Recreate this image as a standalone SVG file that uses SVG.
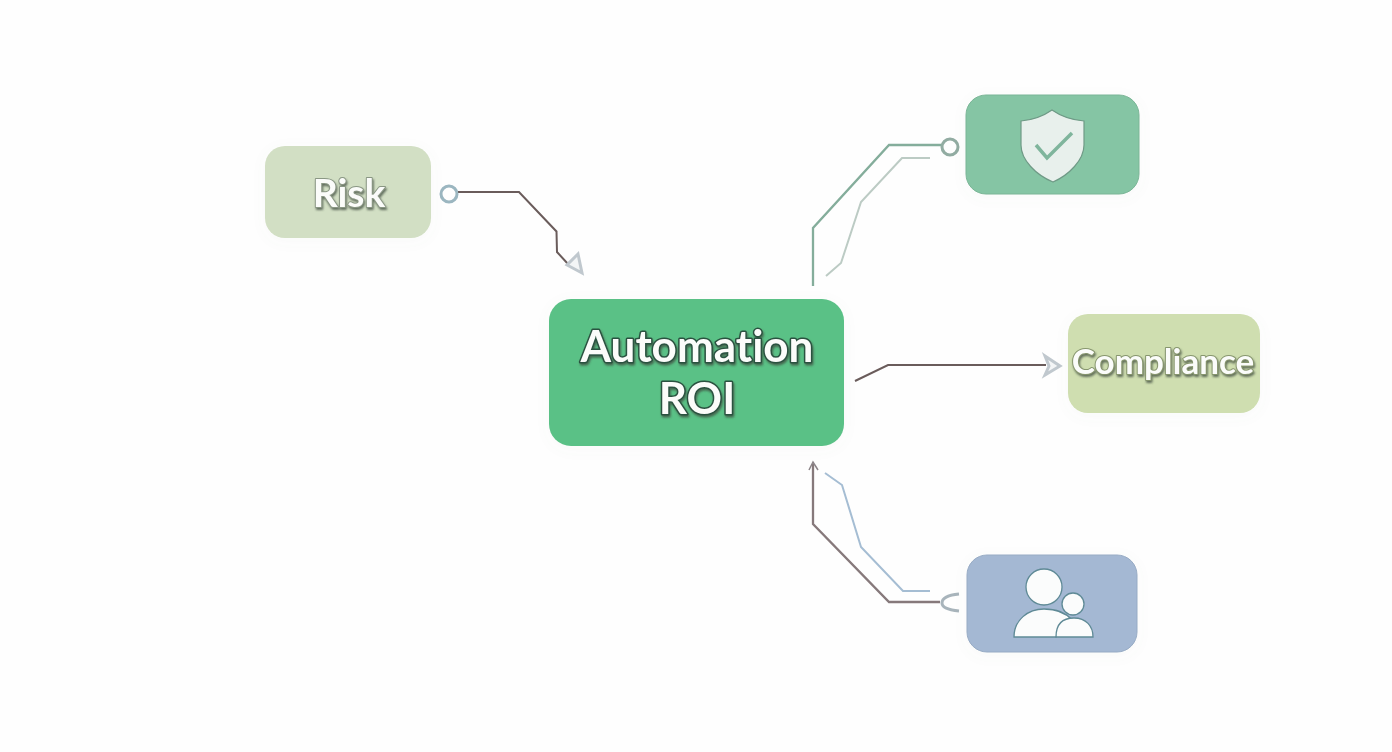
<svg xmlns="http://www.w3.org/2000/svg" width="1392" height="752" viewBox="0 0 1392 752">
<style>
.lbl{font-family:Lato,"Open Sans","Liberation Sans",sans-serif;font-weight:700;fill:#fbfcfa;text-anchor:middle;paint-order:stroke;stroke-linejoin:round;font-variant-ligatures:none}
.line{fill:none;stroke-linejoin:miter}
.head{fill:#f3f5f6;stroke:#c0c8ce;stroke-width:3}
.ic{fill:#fbfcfc;stroke:#5f8a96;stroke-width:1.300}
</style>
<defs>
<filter id="ts" x="-10%" y="-20%" width="120%" height="140%"><feDropShadow dx="1" dy="2" stdDeviation="1" flood-color="#3d4a3d" flood-opacity=".75"/></filter>
<filter id="soft" x="-10%" y="-20%" width="120%" height="140%"><feDropShadow dx="0" dy="3" stdDeviation="7" flood-color="#7f8f80" flood-opacity=".04"/></filter>
</defs>
<rect width="1392" height="752" fill="#fefefe"/>
<g id="connectors">
<path class="line" d="M458 192H519L556.500 231.500L557 252L568 264" stroke="#6a5c5b" stroke-width="2"/>
<path class="head" d="M578 254L582 273L567 265Z"/>
<circle cx="449" cy="194" r="8" fill="#fefefe" stroke="#9bb6c0" stroke-width="3"/>
<path class="line" d="M813 286V228L889 145H942" stroke="#84ad9b" stroke-width="2.300"/>
<path class="line" d="M826 276L841 263L861 202L902 158H930" stroke="#bccbc4" stroke-width="2"/>
<circle cx="950" cy="147" r="8" fill="#fefefe" stroke="#92aca2" stroke-width="3"/>
<path class="line" d="M855 381L888 365H1046" stroke="#6a5c5b" stroke-width="2"/>
<path class="head" d="M1045 356L1060 366L1045 375L1049 366Z"/>
<path class="line" d="M813 464V524L889 602H940" stroke="#86797b" stroke-width="2.300"/>
<path class="line" d="M809 470L813 462L818 470" stroke="#8b8488" stroke-width="1.500"/>
<path class="line" d="M825 473L842 485L861 547L903 591H930" stroke="#a5bdd3" stroke-width="2"/>
<path class="line" d="M959 594C949 595 942 598 942 603C942 608 949 610 959 611" stroke="#a8b4bb" stroke-width="3"/>
</g>
<g id="node-risk">
<rect x="265" y="146" width="166" height="92" rx="20" fill="#d2dfc4" filter="url(#soft)"/>
<text class="lbl" x="349" y="207" font-size="39" stroke="#8a9784" stroke-width="2" filter="url(#ts)">Risk</text>
</g>
<g id="node-shield">
<rect x="966" y="95" width="173" height="99" rx="20" fill="#85c5a4" stroke="#7ab596" stroke-width="1" filter="url(#soft)"/>
<path d="M1052 110C1042 117 1032 120 1021 121V145C1021 160 1036 175 1053 182C1069 175 1084 160 1084 145V121C1072 120 1062 117 1052 110Z" fill="#e8f0ec" stroke="#6f9a86" stroke-width="1.200"/>
<path d="M1036 145L1047 158L1072 133" fill="none" stroke="#7fb59c" stroke-width="3.500"/>
</g>
<g id="node-center">
<rect x="549" y="299" width="295" height="147" rx="22" fill="#5ac186" filter="url(#soft)"/>
<text class="lbl" x="697" y="362" font-size="44" stroke="#2a5240" stroke-width="3" filter="url(#ts)">Automation</text>
<text class="lbl" x="697" y="414" font-size="44" stroke="#2a5240" stroke-width="3" filter="url(#ts)">ROI</text>
</g>
<g id="node-compliance">
<rect x="1068" y="314" width="192" height="99" rx="20" fill="#cfdeb0" filter="url(#soft)"/>
<text class="lbl" x="1163" y="374" font-size="35" stroke="#87966e" stroke-width="2" filter="url(#ts)">Compliance</text>
</g>
<g id="node-people">
<rect x="967" y="555" width="170" height="97" rx="20" fill="#a4b8d3" stroke="#97abc4" stroke-width="1" filter="url(#soft)"/>
<path class="ic" d="M1014 637C1014 620 1028 609 1044 609C1056 609 1066 613 1072 620L1056 637Z"/>
<circle class="ic" cx="1044" cy="587" r="18"/>
<circle class="ic" cx="1073" cy="604" r="11"/>
<path class="ic" d="M1056 637C1056 625 1062 618 1074 618C1086 618 1093 626 1093 637Z"/>
</g>
</svg>
